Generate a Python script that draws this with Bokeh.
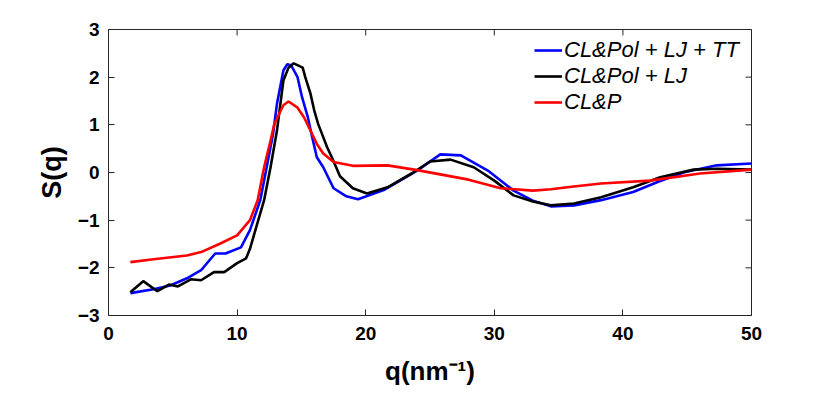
import math
from bokeh.plotting import figure
from bokeh.models import FixedTicker, Range1d, Legend, LegendItem
from bokeh.embed import file_html
from bokeh.resources import INLINE

# ---- data ----
q_tt = [1.7, 3.5, 4.8, 6.1, 7.2, 8.3, 9.1, 10.3, 11.0, 11.8, 12.3, 12.8, 13.1, 13.6, 13.9,
        14.2, 14.7, 15.05, 15.5, 15.84, 16.2, 16.7, 17.5, 18.5, 19.4, 21.4, 24.0, 25.8,
        27.4, 29.5, 31.5, 33.0, 34.4, 36.2, 38.3, 40.8, 42.7, 44.7, 47.3, 50.0]
s_tt = [-2.53, -2.45, -2.37, -2.22, -2.05, -1.70, -1.70, -1.57, -1.21, -0.58, 0.11, 0.82,
        1.44, 2.14, 2.27, 2.25, 2.00, 1.58, 1.16, 0.74, 0.32, 0.11, -0.33, -0.50, -0.56,
        -0.37, 0.04, 0.38, 0.36, 0.04, -0.38, -0.59, -0.71, -0.69, -0.58, -0.41, -0.20,
        0.00, 0.15, 0.19]

q_lj = [1.7, 2.7, 3.8, 4.7, 5.4, 6.4, 7.2, 8.2, 9.0, 10.0, 10.7, 11.0, 12.1, 12.6, 13.1,
        13.6, 14.0, 14.4, 15.1, 15.3, 15.7, 16.0, 16.3, 16.6, 17.0, 17.4, 18.0, 19.0,
        20.1, 21.7, 23.7, 25.0, 26.6, 28.4, 30.0, 31.5, 33.0, 34.4, 36.2, 38.3, 40.8,
        42.9, 45.5, 47.3, 50.0]
s_lj = [-2.51, -2.28, -2.49, -2.35, -2.39, -2.24, -2.26, -2.09, -2.09, -1.90, -1.80, -1.60,
        -0.58, 0.11, 0.88, 1.93, 2.20, 2.29, 2.20, 2.00, 1.66, 1.30, 1.02, 0.81, 0.53,
        0.30, -0.08, -0.33, -0.44, -0.31, 0.00, 0.23, 0.27, 0.11, -0.17, -0.48, -0.61,
        -0.69, -0.65, -0.52, -0.31, -0.10, 0.06, 0.08, 0.06]

q_p = [1.7, 3.5, 6.1, 7.2, 8.7, 10.0, 11.0, 11.6, 12.1, 12.6, 12.9, 13.4, 13.6, 14.0,
       14.7, 15.2, 15.7, 16.2, 16.7, 17.5, 19.0, 21.7, 24.0, 26.0, 28.0, 30.5, 33.0, 34.4,
       36.0, 38.3, 42.1, 46.0, 50.0]
s_p = [-1.88, -1.82, -1.74, -1.67, -1.49, -1.32, -1.00, -0.58, 0.11, 0.67, 1.02, 1.30,
       1.41, 1.49, 1.36, 1.16, 0.88, 0.60, 0.40, 0.22, 0.14, 0.15, 0.05, -0.05, -0.15,
       -0.33, -0.38, -0.35, -0.30, -0.23, -0.17, -0.02, 0.06]

labels = ["CL&Pol + LJ + TT", "CL&Pol + LJ", "CL&P"]
x_ticks = [0, 10, 20, 30, 40, 50]
y_ticks = [-3, -2, -1, 0, 1, 2, 3]
x_lim = (0, 50)
y_lim = (-3, 3)

FONT = "Liberation Sans"
AX = "#262626"

p = figure(width=830, height=393, output_backend="svg", toolbar_location=None,
           x_range=Range1d(*x_lim), y_range=Range1d(*y_lim),
           min_border_left=108, min_border_right=79, min_border_top=29,
           min_border_bottom=78)
p.grid.visible = False
p.outline_line_color = AX
p.outline_line_width = 1
p.background_fill_color = "white"

for ax in (p.xaxis[0], p.yaxis[0]):
    ax.major_tick_in = 6
    ax.major_tick_out = 0
    ax.minor_tick_line_color = None
    ax.axis_line_color = AX
    ax.major_tick_line_color = AX
    ax.major_label_text_font = FONT
    ax.major_label_text_font_style = "bold"
    ax.major_label_text_font_size = "19px"
    ax.major_label_text_color = "black"
    ax.axis_label_text_font = FONT
    ax.axis_label_text_font_style = "bold"
    ax.axis_label_text_color = "black"

p.xaxis.ticker = FixedTicker(ticks=x_ticks)
p.yaxis.ticker = FixedTicker(ticks=y_ticks)
p.xaxis.major_label_standoff = 11
p.yaxis.major_label_standoff = 9
p.xaxis.axis_label = "q(nm⁻¹)"
p.yaxis.axis_label = "S(q)"
p.xaxis.axis_label_text_font_size = "26px"
p.yaxis.axis_label_text_font_size = "27px"
p.xaxis.axis_label_standoff = 13
p.yaxis.axis_label_standoff = 8

# inward ticks on the top and right edges of the box
p.scatter(x_ticks, [y_lim[1]] * len(x_ticks), marker="dash", size=12,
          angle=math.pi / 2, line_color=AX, line_width=1)
p.scatter([x_lim[1]] * len(y_ticks), y_ticks, marker="dash", size=12,
          line_color=AX, line_width=1)

r1 = p.line(q_tt, s_tt, line_color="#0000ff", line_width=2.6)
r2 = p.line(q_lj, s_lj, line_color="#000000", line_width=2.6)
r3 = p.line(q_p, s_p, line_color="#ff0000", line_width=2.6)

legend = Legend(items=[LegendItem(label=labels[0], renderers=[r1]),
                       LegendItem(label=labels[1], renderers=[r2]),
                       LegendItem(label=labels[2], renderers=[r3])],
                location="top_right", margin=6, padding=2, spacing=-2,
                glyph_width=28, glyph_height=20, label_height=20, label_width=179,
                label_standoff=2,
                label_text_font=FONT, label_text_font_style="italic",
                label_text_font_size="22px", label_text_color="black",
                border_line_alpha=0, background_fill_alpha=0)
p.add_layout(legend, "center")

open("out.html", "w").write(file_html(p, INLINE))
